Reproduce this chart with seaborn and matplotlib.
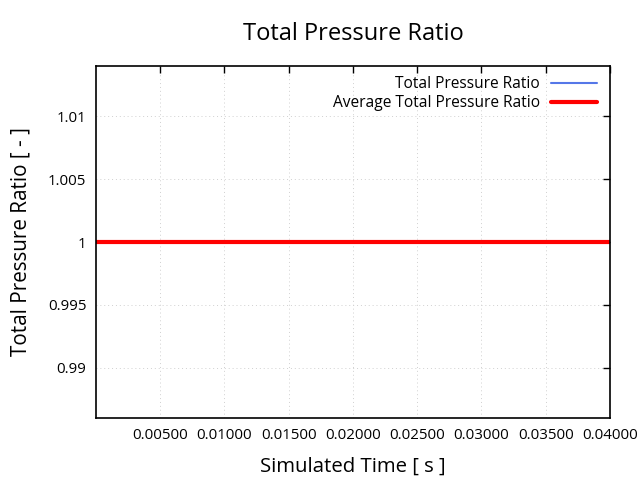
import matplotlib
matplotlib.use("Agg")
import matplotlib.pyplot as plt
import seaborn as sns
import pandas as pd

# Data
sim_time = [0.0, 0.005, 0.01, 0.015, 0.02, 0.025, 0.03, 0.035, 0.04]
pressure_ratio = [1.0, 1.0, 1.0, 1.0, 1.0, 1.0, 1.0, 1.0, 1.0]
avg_pressure_ratio = [1.0, 1.0, 1.0, 1.0, 1.0, 1.0, 1.0, 1.0, 1.0]
x_ticks = [0.005, 0.01, 0.015, 0.02, 0.025, 0.03, 0.035, 0.04]
y_ticks = [0.99, 0.995, 1.0, 1.005, 1.01]
y_tick_labels = ["0.99", "0.995", "1", "1.005", "1.01"]

# Setup
sns.set_theme(style="white", rc={"text.color": "black", "axes.labelcolor": "black",
                                 "xtick.color": "black", "ytick.color": "black"})
plt.rcParams['font.family'] = ['Open Sans', 'DejaVu Sans']

df = pd.DataFrame({"time": sim_time, "ratio": pressure_ratio, "avg": avg_pressure_ratio})

fig = plt.figure(figsize=(6.4, 4.8), dpi=100)
ax = fig.add_axes([0.15, 0.129, 0.803, 0.7335])

sns.lineplot(data=df, x="time", y="ratio", ax=ax, color="#5577e8", lw=1.5,
             label="Total Pressure Ratio")
sns.lineplot(data=df, x="time", y="avg", ax=ax, color="#ff0000", lw=3,
             label="Average Total Pressure Ratio")

ax.set_xlim(0.0, 0.04)
ax.set_ylim(0.986, 1.014)
ax.set_xticks(x_ticks)
ax.set_xticklabels([f"{t:.5f}" for t in x_ticks])
ax.set_yticks(y_ticks)
ax.set_yticklabels(y_tick_labels)

ax.grid(True, color="#d0d0d0", linestyle=(0, (1, 3)), linewidth=0.7)
for s in ax.spines.values():
    s.set_color("black")
    s.set_linewidth(1.2)
ax.tick_params(axis="both", direction="in", length=5, width=1, color="black",
               labelsize=10.8, top=True, right=True, pad=7)

ax.set_title("Total Pressure Ratio", fontsize=17, pad=19)
ax.set_xlabel("Simulated Time [ s ]", fontsize=14.7, labelpad=10)
ax.set_ylabel("Total Pressure Ratio [ - ]", fontsize=14.9, labelpad=12)

ax.legend(loc="upper right", frameon=False, markerfirst=False, fontsize=11.2,
          handlelength=3.0, handletextpad=0.7, borderaxespad=0.25,
          labelspacing=0.2, bbox_to_anchor=(0.995, 1.0))

fig.savefig("out.png", dpi=100)
